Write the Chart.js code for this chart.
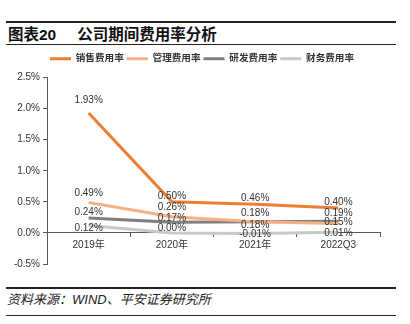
<!DOCTYPE html>
<html>
<head>
<meta charset="utf-8">
<script src="https://cdn.jsdelivr.net/npm/chart.js@4/dist/chart.umd.min.js"></script>
<style>
    body { margin: 0; width: 410px; height: 324px; background: #fff; position: relative; overflow: hidden;
           font-family: "Liberation Sans", "Noto Sans CJK SC", sans-serif; }
    .rule { position: absolute; left: 6px; width: 390px; height: 1.5px; background: #222; }
    #title { position: absolute; left: 8px; top: 25px; font-size: 15.5px; line-height: 20px; font-weight: bold; color: #111; white-space: nowrap; }
    #title span { margin-left: 21px; }
    #chart-box { position: absolute; left: 0; top: 41px; width: 410px; height: 240px; }
    #source { position: absolute; left: 7px; top: 292px; font-size: 13px; line-height: 16px; font-style: italic; color: #222; white-space: nowrap; }
</style>
</head>
<body>
<div class="rule" style="top:21px"></div>
<div id="title">图表20<span>公司期间费用率分析</span></div>
<div class="rule" style="top:43.5px"></div>
<div id="chart-box"><canvas id="rate-chart" width="410" height="240"></canvas></div>
<div class="rule" style="top:287px"></div>
<div id="source">资料来源：WIND、平安证券研究所</div>
<div class="rule" style="top:314.5px"></div>
<script>
// period expense ratios, %
const categories = ['2019年', '2020年', '2021年', '2022Q3'];
const salesRate = [1.93, 0.50, 0.46, 0.40];
const adminRate = [0.49, 0.26, 0.18, 0.15];
const rdRate = [0.24, 0.17, 0.18, 0.19];
const financeRate = [0.12, 0.00, -0.01, 0.01];

const FONT = '"Liberation Sans", "Noto Sans CJK SC", sans-serif';
const AXIS_COLOR = '#595959';

// value labels over each point (offset = px from the point, per dataset)
const pointLabels = {
    id: 'pointLabels',
    afterDatasetsDraw(chart) {
        const ctx = chart.ctx;
        ctx.save();
        ctx.font = '10px ' + FONT;
        ctx.fillStyle = '#333';
        ctx.textAlign = 'center';
        ctx.textBaseline = 'middle';
        chart.data.datasets.forEach((ds, i) => {
            chart.getDatasetMeta(i).data.forEach((pt, j) => {
                ctx.fillText(ds.data[j].toFixed(2) + '%', pt.x, pt.y + ds.labelOffset[j]);
            });
        });
        ctx.restore();
    }
};

// a bit more room under the legend, and centre it on the whole canvas
const legendGap = {
    id: 'legendGap',
    beforeInit(chart) {
        const fit = chart.legend.fit;
        chart.legend.fit = function () {
            fit.call(this);
            this.height += 4;
        };
    },
    afterLayout(chart) {
        chart.legend.left = 0;
        chart.legend.right = 404;
    }
};

function line(label, data, color, labelOffset) {
    return {
        label: label,
        data: data,
        borderColor: color,
        backgroundColor: color,
        borderWidth: 3,
        pointRadius: 0,
        tension: 0,
        labelOffset: labelOffset
    };
}

new Chart(document.getElementById('rate-chart'), {
    type: 'line',
    data: {
        labels: categories,
        datasets: [
            line('销售费用率', salesRate, '#ED7D31', [-13, -6, -6, -6]),
            line('管理费用率', adminRate, '#F4B183', [-9, -10, -8, -1]),
            line('研发费用率', rdRate, '#7F7F7F', [-6, -4.5, 3.5, -7.5]),
            line('财务费用率', financeRate, '#C9C9C9', [3, -4.5, 1, 1])
        ]
    },
    options: {
        responsive: false,
        animation: false,
        layout: { padding: { top: 10, right: 30, bottom: 17, left: 0 } },
        plugins: {
            legend: {
                position: 'top',
                labels: {
                    usePointStyle: true,
                    pointStyle: 'line',
                    pointStyleWidth: 21,
                    padding: 3,
                    color: '#333',
                    font: { size: 9.6, weight: 'bold', family: FONT }
                }
            },
            tooltip: { enabled: false }
        },
        scales: {
            x: {
                position: { y: 0 },
                offset: true,
                grid: { offset: true, drawOnChartArea: false, tickLength: 4, color: AXIS_COLOR },
                border: { color: AXIS_COLOR },
                ticks: { color: '#333', padding: 2, maxRotation: 0, font: { size: 10, family: FONT } }
            },
            y: {
                min: -0.5,
                max: 2.5,
                grid: { drawOnChartArea: false, tickLength: 4, color: AXIS_COLOR },
                border: { color: AXIS_COLOR },
                ticks: {
                    stepSize: 0.5,
                    padding: 3,
                    color: '#333',
                    font: { size: 10, family: FONT },
                    callback: v => v.toFixed(1) + '%'
                },
                afterFit(scale) { scale.width = 47; }
            }
        }
    },
    plugins: [pointLabels, legendGap]
});
</script>
</body>
</html>
